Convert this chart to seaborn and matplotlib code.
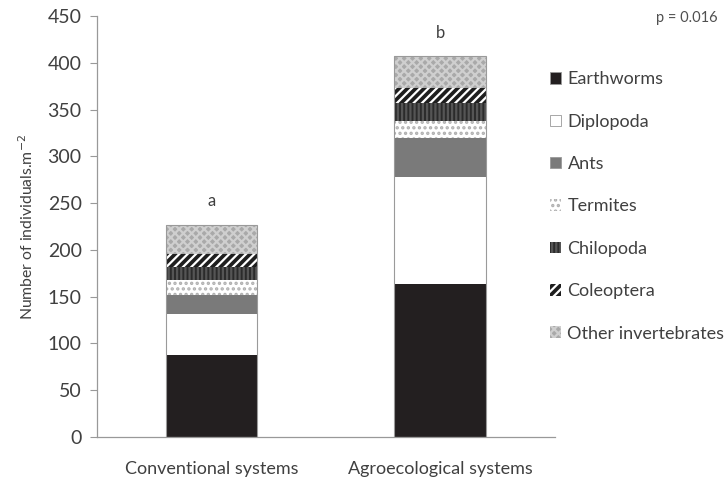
import matplotlib
matplotlib.use("Agg")
import matplotlib.pyplot as plt
import seaborn as sns
import numpy as np
from matplotlib.patches import Patch

# data
systems = ["Conventional systems", "Agroecological systems"]
groups = ["Earthworms", "Diplopoda", "Ants", "Termites", "Chilopoda",
          "Coleoptera", "Other invertebrates"]
conventional = [88, 43, 21, 16, 14, 14, 31]
agroecological = [164, 114, 42, 18, 19, 16, 34]
letters = ["a", "b"]
p_label = "p = 0.016"

# face colour, hatch colour, hatch pattern for each group
styles = {
    "Earthworms": ("#231f20", "#231f20", None),
    "Diplopoda": ("#ffffff", "#ffffff", None),
    "Ants": ("#7a7a7a", "#7a7a7a", None),
    "Termites": ("#ffffff", "#b0b0b0", "..."),
    "Chilopoda": ("#2b2b2b", "#555555", "||||"),
    "Coleoptera": ("#1e1e1e", "#ffffff", "////"),
    "Other invertebrates": ("#a9a9a9", "#cfcfcf", "xxxx"),
}

sns.set_theme(style="white")
plt.rcParams["font.family"] = ["Lato", "DejaVu Sans"]
plt.rcParams["hatch.linewidth"] = 1.6

fig = plt.figure(figsize=(7.27, 4.79), dpi=100)
ax = fig.add_axes([0.1334, 0.0877, 0.6296, 0.879])

cum = np.cumsum(np.array([conventional, agroecological]), axis=1)

# draw cumulative totals from the top segment down so each covers the one above
for i in range(len(groups) - 1, -1, -1):
    face, hcol, hatch = styles[groups[i]]
    sns.barplot(x=systems, y=cum[:, i], color=face, saturation=1, width=0.4,
                hatch=hatch, edgecolor=hcol, linewidth=0, ax=ax)

# thin grey outline round each stack
sns.barplot(x=systems, y=cum[:, -1], color="#9a9a9a", fill=False, width=0.4,
            linewidth=0.8, ax=ax)

for xi, (tot, lab) in enumerate(zip(cum[:, -1], letters)):
    ax.annotate(lab, (xi, tot), xytext=(0, 11), textcoords="offset points",
                ha="center", va="bottom", fontsize=12, color="#404040")

ax.set_ylim(0, 450)
ax.set_xlim(-0.5, 1.5)
ax.set_yticks(np.arange(0, 451, 50))
ax.set_ylabel("Number of individuals.m$^{-2}$", fontsize=11.3, color="#404040",
              labelpad=8)
ax.set_xlabel("")
ax.tick_params(axis="y", left=True, length=5, width=0.8, color="#999999",
               labelsize=14, labelcolor="#404040", pad=6)
ax.tick_params(axis="x", bottom=False, labelsize=13, labelcolor="#404040", pad=11)
for side in ["top", "right"]:
    ax.spines[side].set_visible(False)
for side in ["left", "bottom"]:
    ax.spines[side].set_color("#999999")
    ax.spines[side].set_linewidth(0.9)

handles = []
for g in groups:
    face, hcol, hatch = styles[g]
    handles.append(Patch(facecolor=face, edgecolor=hcol if hatch else "#999999",
                         hatch=hatch, linewidth=0.6 if not hatch else 0))
fig.legend(handles, groups, loc="upper left", bbox_to_anchor=(0.747, 0.866),
           frameon=False, fontsize=13, handlelength=0.6, handleheight=0.6,
           handletextpad=0.35, labelspacing=1.46, borderaxespad=0,
           labelcolor="#404040")

fig.text(0.987, 0.962, p_label, ha="right", va="center", fontsize=10.5,
         color="#505050")

fig.savefig("out.png", dpi=100)
